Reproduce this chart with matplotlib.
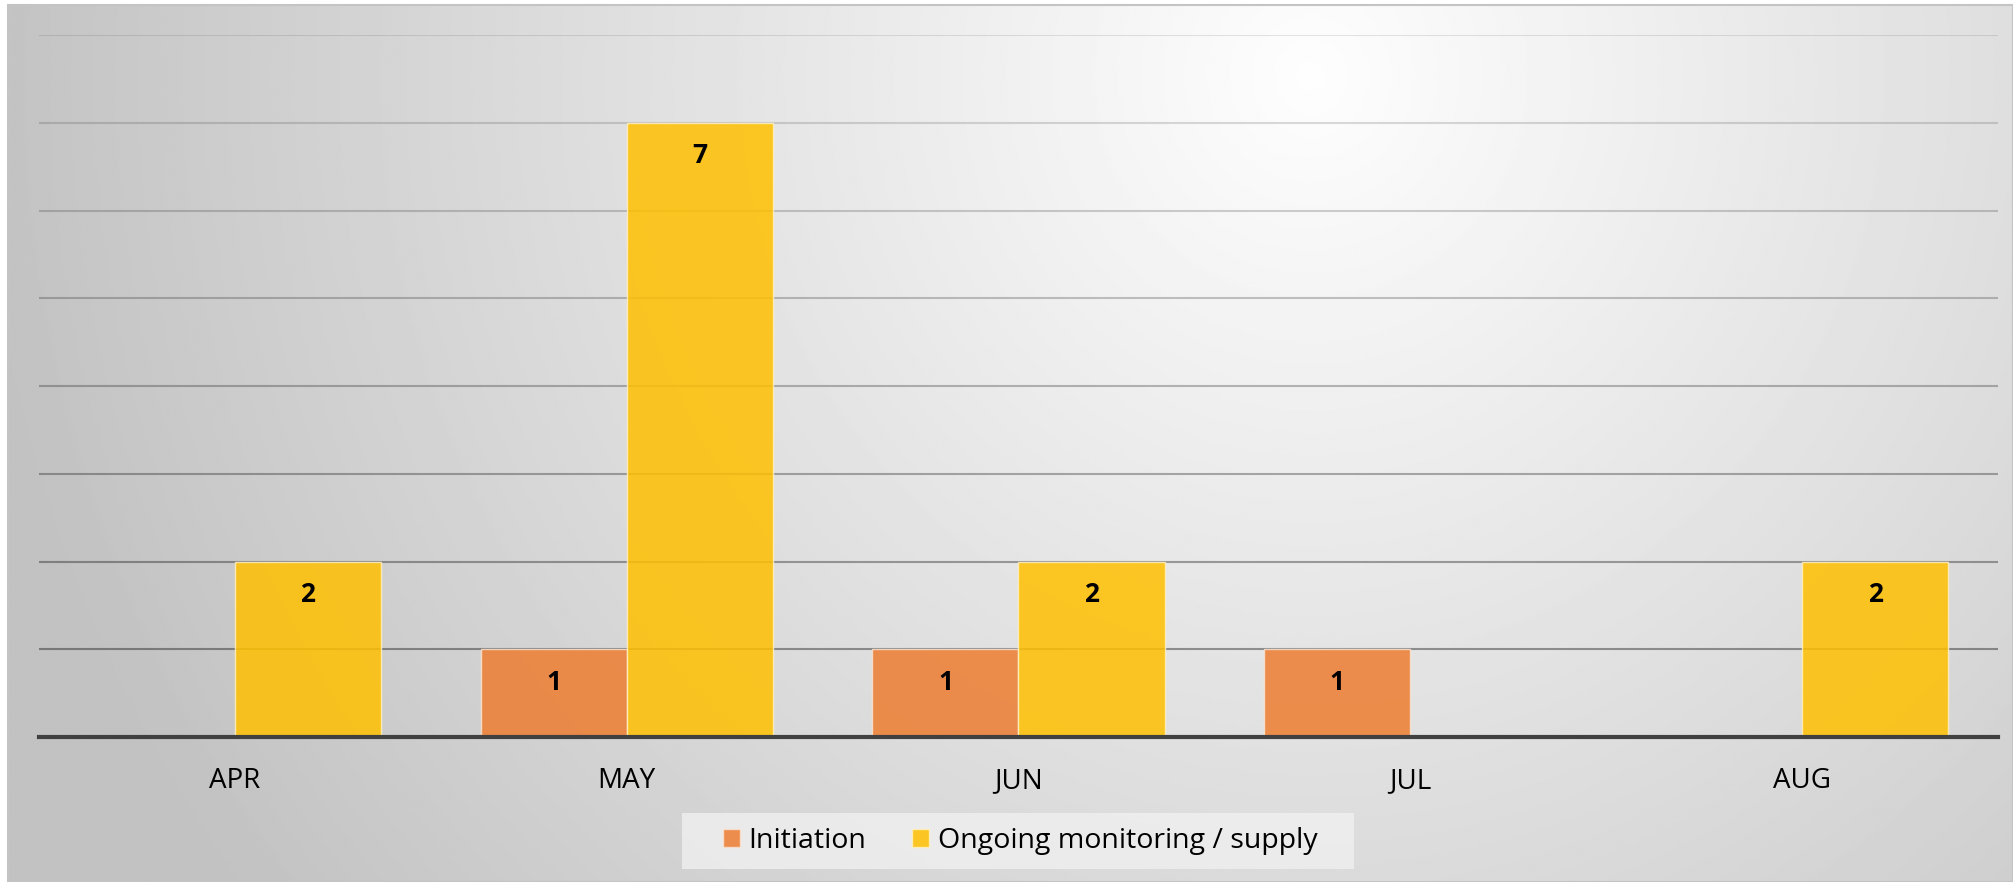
import numpy as np
import matplotlib.pyplot as plt
from matplotlib.patches import Rectangle

months = ['APR', 'MAY', 'JUN', 'JUL', 'AUG']
initiation = [0, 1, 1, 1, 0]
ongoing = [2, 7, 2, 0, 2]
series_names = ['Initiation', 'Ongoing monitoring / supply']

plt.rcParams['font.family'] = ['Open Sans', 'DejaVu Sans']

W, H = 2013, 882
fig = plt.figure(figsize=(W / 100, H / 100), dpi=100)
fig.patch.set_facecolor('white')

# gradient background panel
bg = fig.add_axes([8 / W, 0, 1 - 8 / W, 1 - 5 / H])
yy, xx = np.mgrid[0:1:300j, 0:1:700j]
r = np.sqrt(((xx - 0.65) / 0.47) ** 2 + ((yy - 0.08) / 1.1) ** 2)
shade = np.clip(0.995 - 0.165 * r, 0.76, 1.0)
bg.imshow(shade, cmap='gray', vmin=0, vmax=1, aspect='auto',
          extent=[0, 1, 1, 0], interpolation='bilinear')
bg.set_axis_off()
fig.add_artist(Rectangle((8 / W, 0), 1 - 8 / W, 1 - 5 / H, transform=fig.transFigure,
                         fill=False, edgecolor='#c4c4c4', linewidth=1.5))

ax = fig.add_axes([39 / W, (H - 737) / H, (1998 - 39) / W, (737 - 35) / H])
ax.set_facecolor('none')

x = np.arange(len(months))
w = 0.373
orange = '#ED7D31'
yellow = '#FFC000'

# gridlines get darker towards the bottom
for g in range(1, 9):
    ax.axhline(g, color='black', alpha=0.1 + 0.04 * (8 - g), linewidth=1.5, zorder=0)

b1 = ax.bar(x - w / 2, initiation, w, color=orange, alpha=0.85, edgecolor='#fbe3d0',
            linewidth=1, label=series_names[0], zorder=2)
b2 = ax.bar(x + w / 2, ongoing, w, color=yellow, alpha=0.85, edgecolor='#fff0c0',
            linewidth=1, label=series_names[1], zorder=2)

for bars, vals in ((b1, initiation), (b2, ongoing)):
    for rect, v in zip(bars, vals):
        if v > 0:
            ax.annotate(str(v), (rect.get_x() + rect.get_width() / 2, v),
                        xytext=(0, -33), textcoords='offset pixels',
                        ha='center', va='center', fontsize=19, fontweight='bold',
                        color='black', zorder=3)

ax.set_xlim(-0.5, 4.5)
ax.set_ylim(0, 8)
ax.set_yticks([])
ax.tick_params(axis='x', length=0, pad=21.5, labelsize=20)
ax.set_xticks(x)
ax.set_xticklabels(months)
for s in ['top', 'right', 'left']:
    ax.spines[s].set_visible(False)
ax.spines['bottom'].set_color('#404040')
ax.spines['bottom'].set_linewidth(3)
ax.spines['bottom'].set_zorder(4)

# legend box
fig.add_artist(Rectangle((682 / W, 1 - 869 / H), (1354 - 682) / W, (869 - 813) / H,
                         transform=fig.transFigure, facecolor='#f0f0f0', alpha=0.8,
                         edgecolor='none'))
leg = fig.legend(handles=[b1, b2], loc='center', bbox_to_anchor=(1020 / W, 1 - 841 / H),
                 ncol=2, fontsize=20.5, frameon=False, handlelength=0.6,
                 handleheight=0.6, handletextpad=0.3, columnspacing=1.6,
                 borderaxespad=0)

fig.savefig('out.png', dpi=100)
